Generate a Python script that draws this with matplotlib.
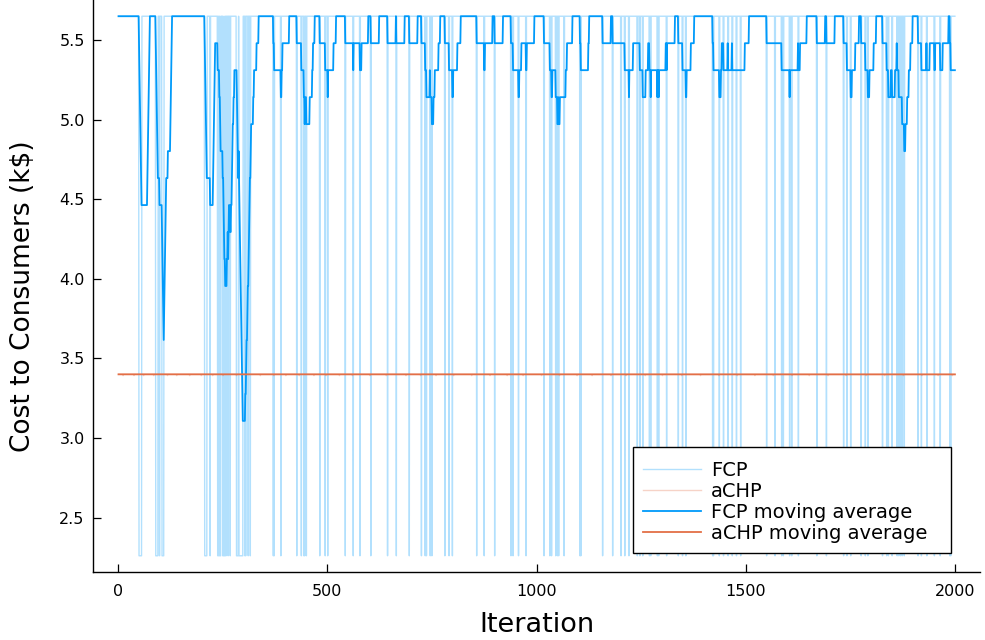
import numpy as np
import pandas as pd
import matplotlib

matplotlib.use("Agg")
import matplotlib.pyplot as plt
from matplotlib.patches import Rectangle

# --- data ---
n_iter = 2000
window = 20

fcp_base = 5.65
fcp_dip = 2.26
# iterations where the FCP cost drops to the low value
fcp_dip_iters = [
    50, 51, 52, 53, 54, 55, 56,
    90, 91, 92, 93, 94, 95, 99, 105, 106, 107, 108, 109,
    207, 208, 209, 210, 211, 212, 220,
    238, 240, 242, 244, 245,
    250, 252, 253, 254, 256, 258, 263, 268,
    283, 284, 285, 286, 287, 289, 290, 291, 292, 293, 294, 295, 296, 297, 298,
    303, 305, 311, 316,
    371, 373, 389, 427, 438, 444, 446, 450, 482, 495, 501,
    543, 562, 578, 604, 644, 665, 696, 725, 734, 737, 746, 750,
    781, 791, 799, 857, 875,
    900, 939, 944, 957, 975, 1018, 1032, 1036, 1046, 1050, 1053, 1066,
    1104, 1106, 1158, 1182, 1202, 1211, 1221, 1241, 1247, 1254,
    1270, 1273, 1289, 1292, 1311, 1339, 1349, 1357,
    1421, 1423, 1437, 1447, 1458, 1468, 1478, 1488,
    1550, 1570, 1586, 1590, 1605, 1610, 1626,
    1670, 1693, 1734, 1742, 1751, 1776, 1786, 1792,
    1827, 1837, 1841, 1850, 1862, 1866, 1870, 1874, 1879,
    1912, 1920, 1933, 1951, 1965, 1988, 1990,
]

achp_base = 3.40
achp_low = 3.392
# iterations where aCHP sits a touch lower
achp_low_iters = [
    12, 38, 61, 85, 118, 140, 171, 199, 226, 251, 283, 306, 340, 372,
    401, 433, 468, 497, 529, 560, 602, 641, 688, 723, 760, 802, 845, 889,
    930, 968, 1012, 1055, 1097, 1133, 1178, 1214, 1260, 1301, 1347, 1392,
    1436, 1480, 1522, 1566, 1611, 1652, 1697, 1740, 1788, 1832, 1877,
    1921, 1960, 1994,
]

blue = "#009AFA"
orange = "#E36F47"

iters = np.arange(1, n_iter + 1)
fcp = np.full(n_iter, fcp_base)
fcp[np.array(fcp_dip_iters) - 1] = fcp_dip
achp = np.full(n_iter, achp_base)
achp[np.array(achp_low_iters) - 1] = achp_low

fcp_ma = pd.Series(fcp).rolling(window, min_periods=1).mean().to_numpy()
achp_ma = pd.Series(achp).rolling(window, min_periods=1).mean().to_numpy()

plt.rcParams["font.family"] = ["DejaVu Sans"]

W, H = 985, 640
fig = plt.figure(figsize=(W / 100, H / 100), dpi=100)
ax = fig.add_axes([93 / W, 1 - 572 / H, 887 / W, 572 / H])

ax.plot(iters, fcp, color=blue, alpha=0.3, lw=1.0, label="FCP")
ax.plot(iters, achp, color=orange, alpha=0.3, lw=1.0, label="aCHP")
ax.plot(iters, fcp_ma, color=blue, lw=1.3, label="FCP moving average")
ax.plot(iters, achp_ma, color=orange, lw=1.3, label="aCHP moving average")

ax.set_xlim(-60, 2060)
ax.set_ylim(2.158, 5.752)
ax.set_xticks([0, 500, 1000, 1500, 2000])
ax.set_yticks([2.5, 3.0, 3.5, 4.0, 4.5, 5.0, 5.5])
ax.set_yticklabels(["2.5", "3.0", "3.5", "4.0", "4.5", "5.0", "5.5"])

for side in ["top", "right"]:
    ax.spines[side].set_visible(False)
for side in ["left", "bottom"]:
    ax.spines[side].set_linewidth(1.0)

ax.tick_params(direction="in", length=6, width=0.9, labelsize=11.5)
ax.tick_params(axis="x", pad=9)
ax.tick_params(axis="y", pad=6)
ax.set_xlabel("Iteration", fontsize=19.5, labelpad=9)
ax.set_ylabel(r"Cost to Consumers (k\$)", fontsize=19)
ax.yaxis.set_label_coords((36 - 93) / 887, 0.483)

# legend box drawn like the reference, legend entries on top of it
ax.add_patch(
    Rectangle(
        (633 / W, 1 - 553 / H),
        318 / W,
        106 / H,
        transform=fig.transFigure,
        facecolor="white",
        edgecolor="black",
        lw=1.0,
        zorder=4,
        clip_on=False,
    )
)
leg = ax.legend(
    loc="upper left",
    bbox_to_anchor=(643 / W, 1 - 461 / H),
    bbox_transform=fig.transFigure,
    fontsize=14,
    frameon=False,
    handlelength=3.0,
    handletextpad=0.5,
    labelspacing=0.1,
    borderpad=0.0,
    borderaxespad=0.0,
)
leg.set_zorder(5)

fig.savefig("out.png", dpi=100)
